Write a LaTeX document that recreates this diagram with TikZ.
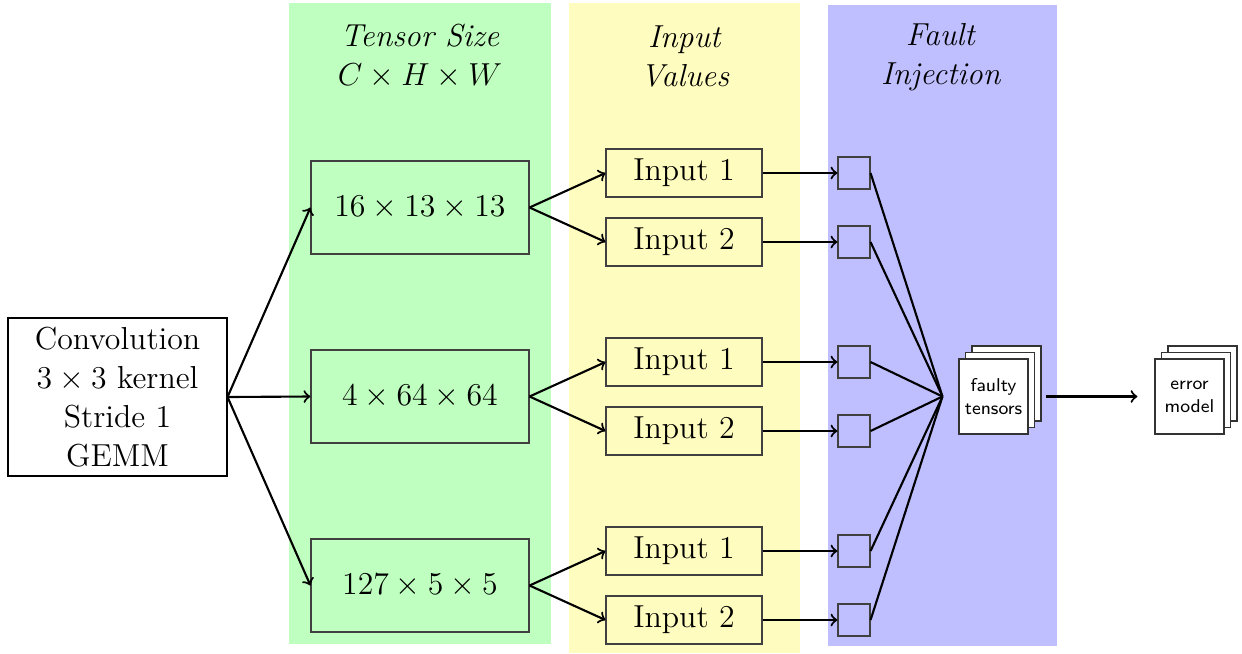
\documentclass[tikz,border=0pt]{standalone}
\usetikzlibrary{shadows}
\newcommand\pxu{0.3774pt}
\begin{document}
\begin{tikzpicture}[x=0.3774pt,y=-0.3774pt,
  txt/.style={font=\fontsize{12}{14.7}\selectfont, align=center},
  box/.style={txt, draw, inner sep=0pt},
  tbox/.style={box, draw=black!75, minimum width=218*\pxu, minimum height=93*\pxu},
  ibox/.style={box, draw=black!75, minimum width=156*\pxu, minimum height=48*\pxu},
  sq/.style={draw=black!75, inner sep=0pt, minimum width=32*\pxu, minimum height=32*\pxu},
  stackbox/.style={draw=black!80, fill=white, inner sep=0pt, align=center,
    font=\sffamily\fontsize{7}{8.7}\selectfont,
    minimum width=69*\pxu, minimum height=75*\pxu,
    double copy shadow={shadow xshift=6.5*\pxu, shadow yshift=6.5*\pxu, draw=black!80, fill=white}},
  arr/.style={->, thick},
  ln/.style={thick}]
\useasboundingbox (0,0) rectangle (1242,653);
% column backgrounds
\fill[green!25] (289,3) rectangle (551,644);
\fill[yellow!25] (569,3) rectangle (800,653);
\fill[blue!25] (828,5) rectangle (1057,646);
% titles
\node[txt] (t1) at (420,56.5) {\textit{Tensor Size}\\$C\times H\times W$};
\node[txt] (t2) at (685,56.5) {\textit{Input}\\\textit{Values}};
\node[txt] (t3) at (941,57.5) {\textit{Fault}\\\textit{Injection}};
% convolution
\node[box, minimum width=219*\pxu, minimum height=158*\pxu] (conv) at (117.5,397) {Convolution\\$3\times3$ kernel\\Stride 1\\GEMM};
% tensor sizes
\node[tbox] (s1) at (420,207.5) {$16\times13\times13$};
\node[tbox] (s2) at (420,396.5) {$4\times64\times64$};
\node[tbox] (s3) at (420,585.5) {$127\times5\times5$};
% inputs
\node[ibox] (i1a) at (684,173) {Input 1};
\node[ibox] (i1b) at (684,242) {Input 2};
\node[ibox] (i2a) at (684,362) {Input 1};
\node[ibox] (i2b) at (684,431) {Input 2};
\node[ibox] (i3a) at (684,551) {Input 1};
\node[ibox] (i3b) at (684,620) {Input 2};
% small squares
\node[sq] (q1a) at (854,173) {};
\node[sq] (q1b) at (854,242) {};
\node[sq] (q2a) at (854,362) {};
\node[sq] (q2b) at (854,431) {};
\node[sq] (q3a) at (854,551) {};
\node[sq] (q3b) at (854,620) {};
% stacks
\node[stackbox] (ft) at (993.5,396.5) {faulty\\tensors};
\node[stackbox] (em) at (1189.5,396.5) {error\\model};
\coordinate (fj) at ([xshift=-16*\pxu]ft.west);
% connectors
\foreach \s in {s1,s2,s3} \draw[arr] (conv.east) -- (\s.west);
\draw[arr] (s1.east) -- (i1a.west);
\draw[arr] (s1.east) -- (i1b.west);
\draw[arr] (s2.east) -- (i2a.west);
\draw[arr] (s2.east) -- (i2b.west);
\draw[arr] (s3.east) -- (i3a.west);
\draw[arr] (s3.east) -- (i3b.west);
\foreach \i in {1a,1b,2a,2b,3a,3b} {
  \draw[arr] (i\i.east) -- (q\i.west);
  \draw[ln] (q\i.east) -- (fj);
}
\draw[arr, shorten <=17*\pxu, shorten >=17*\pxu] (ft.east) -- (em.west);
\end{tikzpicture}
\end{document}
